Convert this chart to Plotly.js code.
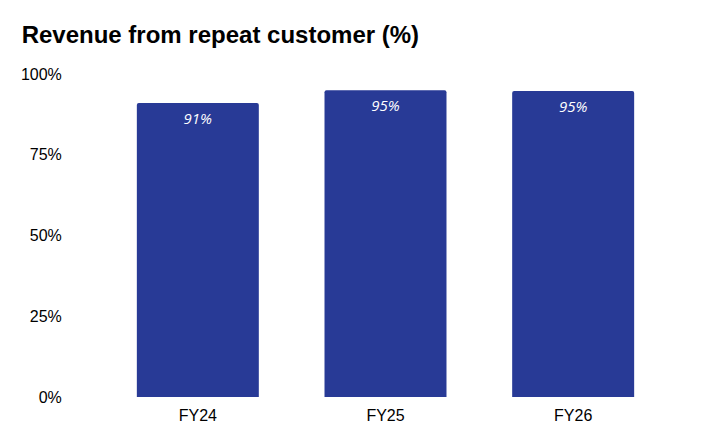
<!DOCTYPE html>
<html>
<head>
<meta charset="utf-8">
<script src="https://cdn.plot.ly/plotly-3.0.1.min.js"></script>
<style>html,body{margin:0;padding:0;background:#fff;}#chart{width:722px;height:447px;}</style>
</head>
<body>
<div id="chart"></div>
<script>
var categories = ['FY24', 'FY25', 'FY26'];
var values = [91, 95, 94.7];
var labels = ['91%', '95%', '95%'];
var yTicks = [0, 25, 50, 75, 100];
var yTickText = ['0%', '25%', '50%', '75%', '100%'];

var bars = {
  type: 'bar',
  x: categories,
  y: values,
  marker: {color: '#283a96'},
  hoverinfo: 'none',
  showlegend: false
};
var texts = {
  type: 'scatter',
  mode: 'markers+text',
  x: categories,
  y: values,
  text: labels,
  textposition: 'bottom center',
  marker: {size: 14, opacity: 0},
  textfont: {family: 'Open Sans, sans-serif', size: 15, color: '#ffffff', style: 'italic'},
  hoverinfo: 'none',
  showlegend: false,
  cliponaxis: false
};
var layout = {
  width: 722,
  height: 447,
  margin: {l: 104, r: 55, t: 74, b: 50},
  paper_bgcolor: '#ffffff',
  plot_bgcolor: '#ffffff',
  barcornerradius: 2,
  bargap: 0.35,
  title: {
    text: '<b>Revenue from repeat customer (%)</b>',
    font: {family: 'Liberation Sans, Arial, sans-serif', size: 24, color: '#000000'},
    x: 0.03, xanchor: 'left', xref: 'container',
    y: 0.923, yanchor: 'middle', yref: 'container'
  },
  xaxis: {
    type: 'category',
    showgrid: false, zeroline: false, showline: false,
    tickfont: {family: 'Liberation Sans, Arial, sans-serif', size: 16, color: '#000000'},
    ticks: 'outside', ticklen: 4, tickcolor: 'rgba(0,0,0,0)'
  },
  yaxis: {
    range: [0, 100],
    tickvals: yTicks,
    ticktext: yTickText,
    showgrid: false, zeroline: false, showline: false,
    tickfont: {family: 'Liberation Sans, Arial, sans-serif', size: 16, color: '#000000'},
    ticks: 'outside', ticklen: 38, tickcolor: 'rgba(0,0,0,0)'
  }
};
Plotly.newPlot('chart', [bars, texts], layout, {displayModeBar: false, staticPlot: true});
</script>
</body>
</html>
